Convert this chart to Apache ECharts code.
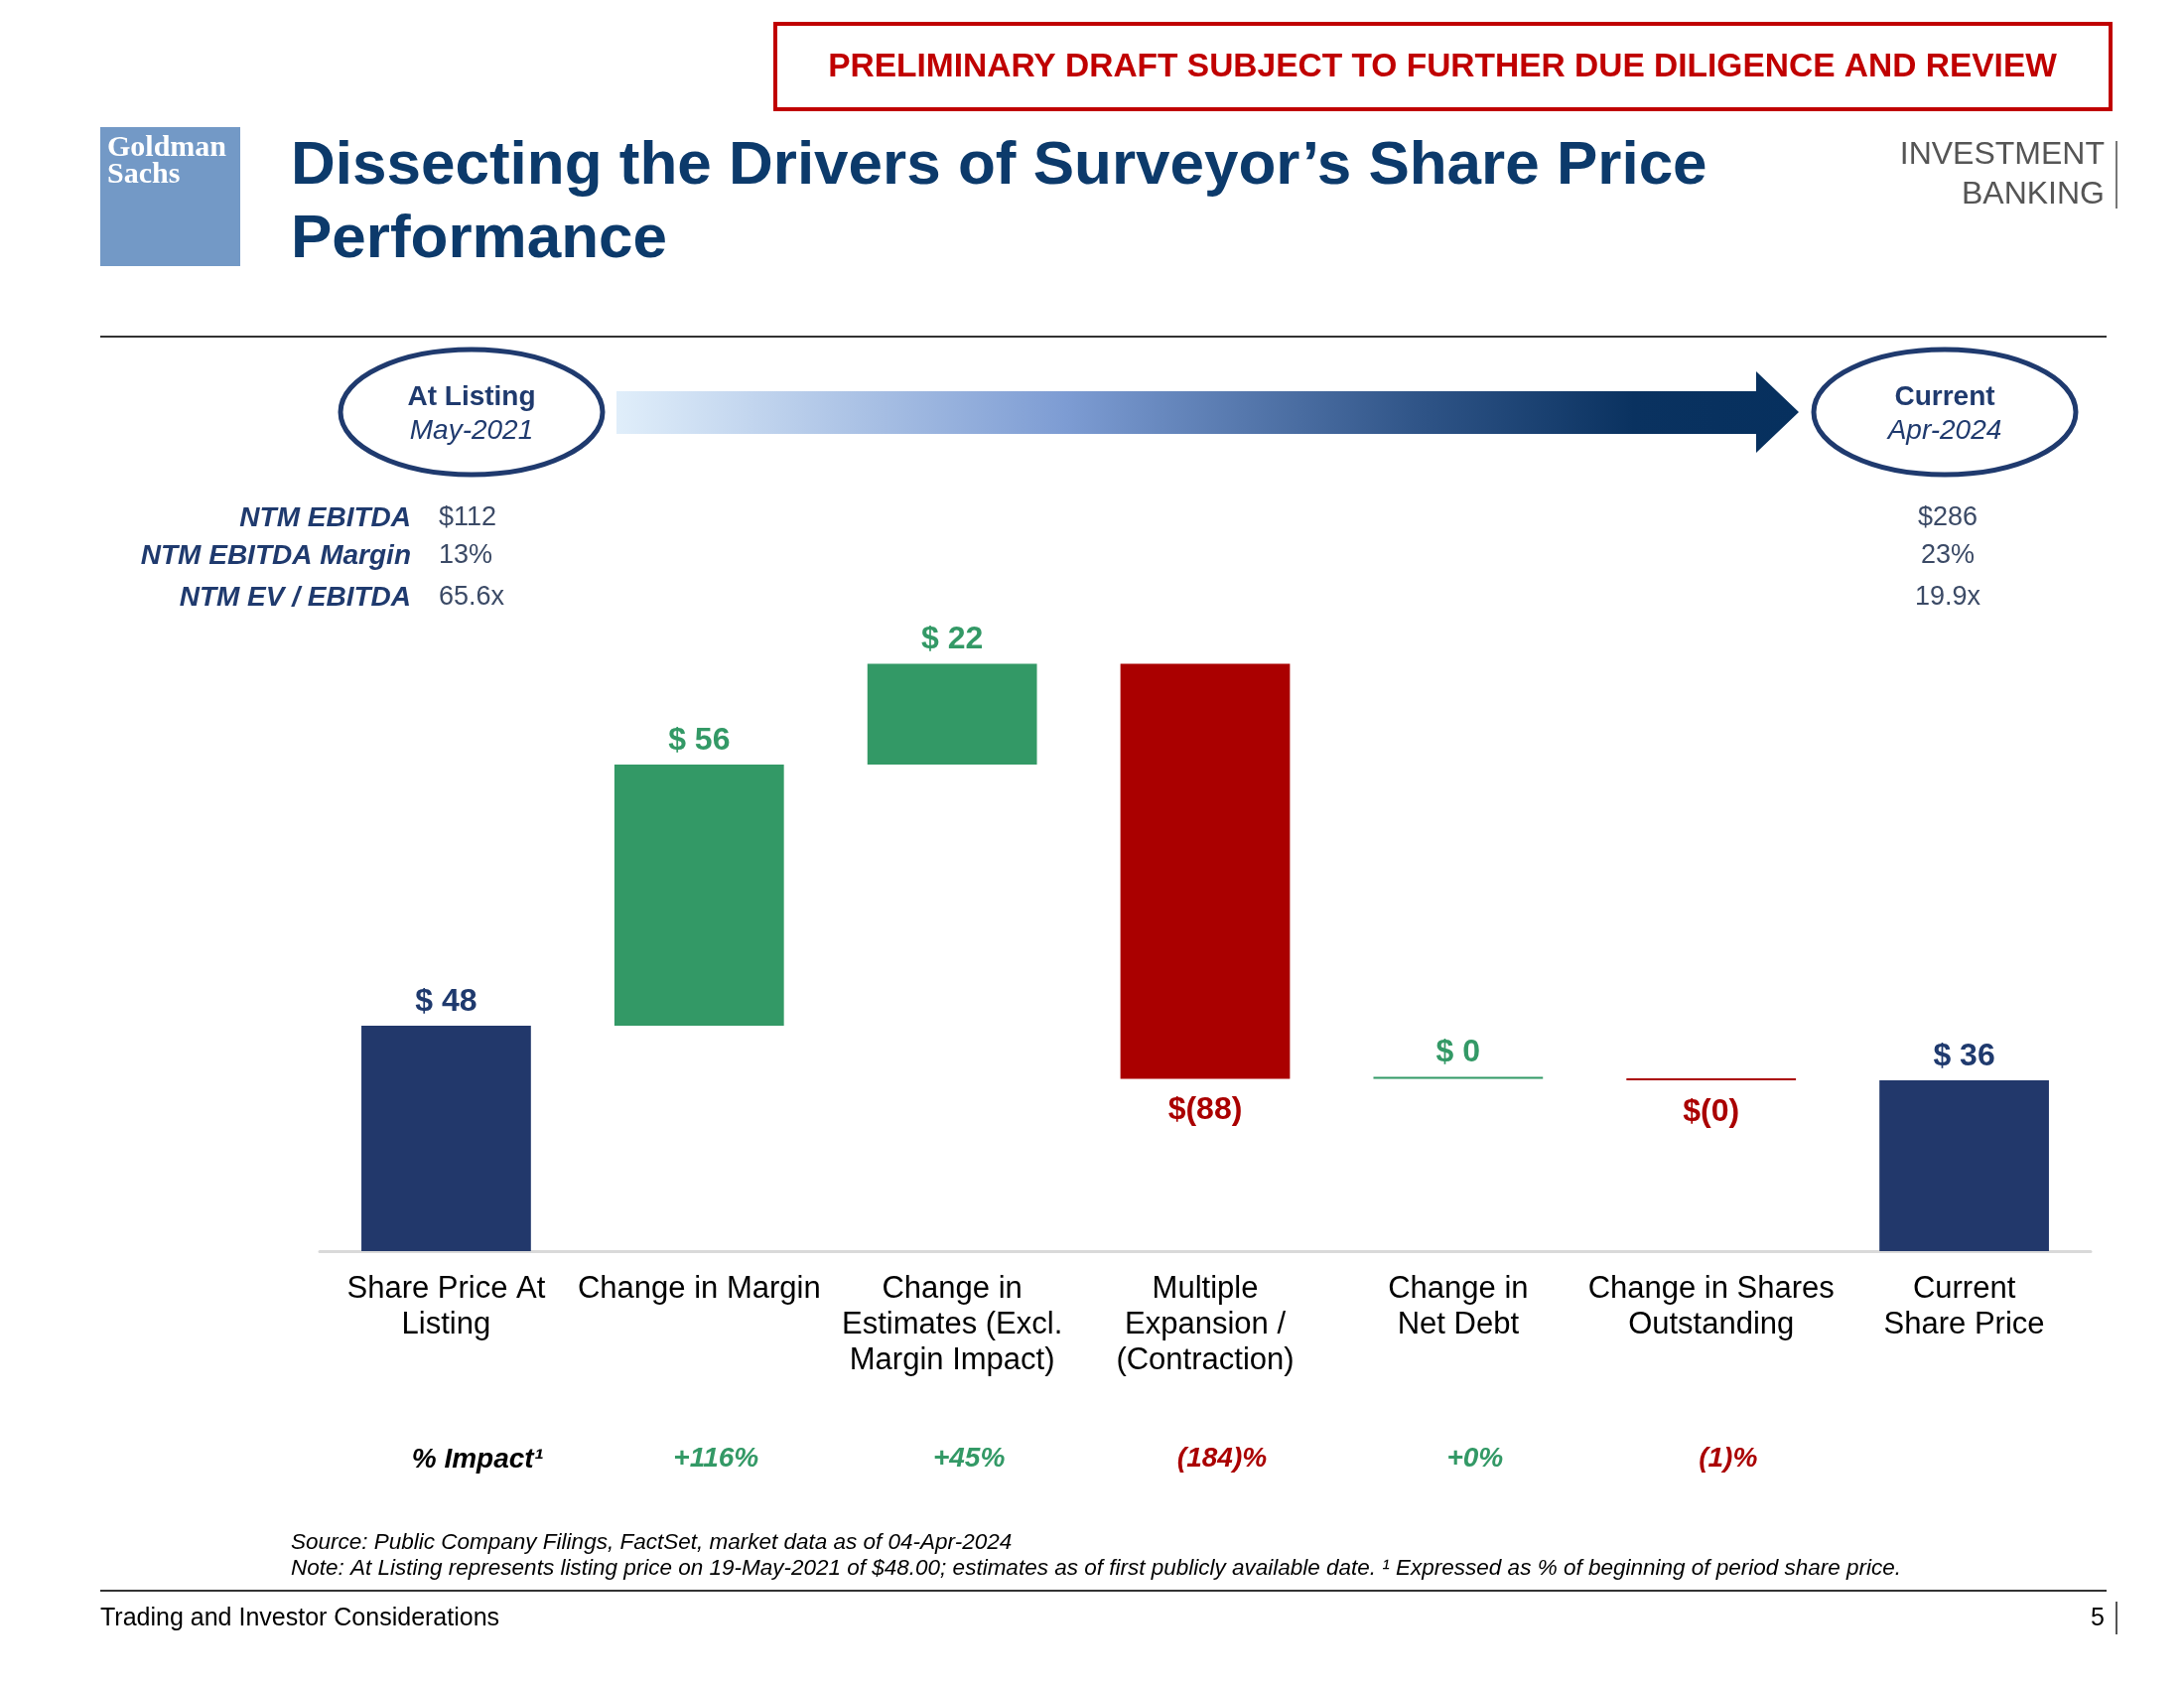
<!DOCTYPE html>
<html>
<head>
<meta charset="utf-8">
<script src="https://cdn.jsdelivr.net/npm/echarts@6/dist/echarts.min.js"></script>
<style>
html,body{margin:0;padding:0;background:#fff;}
#chart{width:2200px;height:1700px;}
</style>
</head>
<body>
<div id="chart"></div>
<script>
// ---- data ----
const categories = ['Share Price At\nListing', 'Change in Margin', 'Change in\nEstimates (Excl.\nMargin Impact)', 'Multiple\nExpansion /\n(Contraction)', 'Change in\nNet Debt', 'Change in Shares\nOutstanding', 'Current\nShare Price'];
const startPrice = 48.0;
const changes = [55.6, 21.5, -88.4, 0.1, -0.4];
const pctImpact = ['', '+116%', '+45%', '(184)%', '+0%', '(1)%', ''];
const metricNames = ['NTM EBITDA', 'NTM EBITDA Margin', 'NTM EV / EBITDA'];
const metricsListing = ['$112', '13%', '65.6x'];
const metricsCurrent = ['$286', '23%', '19.9x'];

// ---- build waterfall ----
const NAVY = '#22386B', GREEN = '#339966', RED = '#AA0000';
const LABEL_NAVY = '#1F3A6E';
function fmt(v){ const r = Math.round(Math.abs(v)); return v < 0 ? '$(' + r + ')' : '$ ' + r; }
const baseData = [], valData = [];
let run = startPrice;
baseData.push(0);
valData.push({value: startPrice, itemStyle:{color:NAVY}, label:{position:'top', color:LABEL_NAVY, formatter: fmt(startPrice)}});
changes.forEach(c => {
  const next = run + c;
  baseData.push(Math.min(run, next));
  const col = c >= 0 ? GREEN : RED;
  valData.push({value: Math.abs(c), itemStyle:{color:col}, label:{position: c >= 0 ? 'top' : 'bottom', distance: c >= 0 ? 8 : 16, color:col, formatter: fmt(c)}});
  run = next;
});
baseData.push(0);
valData.push({value: run, itemStyle:{color:NAVY}, label:{position:'top', color:LABEL_NAVY, formatter: fmt(run)}});

const FONT = '"Liberation Sans", Arial, sans-serif';
const chart = echarts.init(document.getElementById('chart'), null, {renderer:'canvas'});

const graphics = [];
// Draft box
graphics.push({type:'rect', shape:{x:781, y:24, width:1345, height:86}, style:{fill:'#fff', stroke:'#C00000', lineWidth:4}});
graphics.push({type:'text', style:{text:'PRELIMINARY DRAFT SUBJECT TO FURTHER DUE DILIGENCE AND REVIEW', x:1453, y:68, align:'center', verticalAlign:'middle', fill:'#C00000', fontSize:33.5, fontWeight:'bold', fontFamily:FONT}});
// Logo
graphics.push({type:'rect', shape:{x:101, y:128, width:141, height:140}, style:{fill:'#7399C6'}});
graphics.push({type:'text', style:{text:'Goldman', x:108, y:149, verticalAlign:'middle', fill:'#fff', fontSize:30, fontWeight:'bold', fontFamily:'"Liberation Serif", "DejaVu Serif", serif'}});
graphics.push({type:'text', style:{text:'Sachs', x:108, y:176, verticalAlign:'middle', fill:'#fff', fontSize:30, fontWeight:'bold', fontFamily:'"Liberation Serif", "DejaVu Serif", serif'}});
// Title
graphics.push({type:'text', style:{text:'Dissecting the Drivers of Surveyor’s Share Price', x:293, y:199, verticalAlign:'bottom', fill:'#0C3A6B', fontSize:62, fontWeight:'bold', fontFamily:FONT}});
graphics.push({type:'text', style:{text:'Performance', x:293, y:273, verticalAlign:'bottom', fill:'#0C3A6B', fontSize:62, fontWeight:'bold', fontFamily:FONT}});
// Investment banking
graphics.push({type:'text', style:{text:'INVESTMENT', x:2120, y:156, align:'right', verticalAlign:'middle', fill:'#555', fontSize:32, fontFamily:FONT}});
graphics.push({type:'text', style:{text:'BANKING', x:2120, y:196, align:'right', verticalAlign:'middle', fill:'#555', fontSize:32, fontFamily:FONT}});
graphics.push({type:'line', shape:{x1:2132, y1:142, x2:2132, y2:210}, style:{stroke:'#777', lineWidth:2}});
// Rules
graphics.push({type:'line', shape:{x1:101, y1:339, x2:2122, y2:339}, style:{stroke:'#333', lineWidth:2}});
graphics.push({type:'line', shape:{x1:101, y1:1602, x2:2122, y2:1602}, style:{stroke:'#333', lineWidth:2}});
// Arrow
graphics.push({type:'polygon', shape:{points:[[621,394],[1769,394],[1769,374],[1812,415],[1769,456],[1769,437],[621,437]]},
  style:{fill:new echarts.graphic.LinearGradient(0,0,1,0,[{offset:0,color:'#E0EEFA'},{offset:0.38,color:'#7D9CD3'},{offset:0.68,color:'#2F5487'},{offset:0.86,color:'#0A3260'},{offset:1,color:'#06305E'}])}});
// Ellipses
[[475,'At Listing','May-2021'],[1959,'Current','Apr-2024']].forEach(e => {
  graphics.push({type:'ellipse', shape:{cx:e[0], cy:415, rx:132, ry:63}, style:{fill:'#fff', stroke:'#1F3A6E', lineWidth:5}});
  graphics.push({type:'text', style:{text:e[1], x:e[0], y:400, align:'center', verticalAlign:'middle', fill:'#1F3A6E', fontSize:28, fontWeight:'bold', fontFamily:FONT}});
  graphics.push({type:'text', style:{text:e[2], x:e[0], y:434, align:'center', verticalAlign:'middle', fill:'#1F3A6E', fontSize:28, fontStyle:'italic', fontFamily:FONT}});
});
// Metrics
const metricY = [522, 560, 602];
metricNames.forEach((m,i) => {
  graphics.push({type:'text', style:{text:m, x:414, y:metricY[i], align:'right', verticalAlign:'middle', fill:'#1F3A6E', fontSize:28, fontWeight:'bold', fontStyle:'italic', fontFamily:FONT}});
  graphics.push({type:'text', style:{text:metricsListing[i], x:442, y:metricY[i], align:'left', verticalAlign:'middle', fill:'#3B4A66', fontSize:27, fontFamily:FONT}});
  graphics.push({type:'text', style:{text:metricsCurrent[i], x:1962, y:metricY[i], align:'center', verticalAlign:'middle', fill:'#3B4A66', fontSize:27, fontFamily:FONT}});
});
// % Impact label
graphics.push({type:'text', style:{text:'% Impact¹', x:547, y:1470, align:'right', verticalAlign:'middle', fill:'#000', fontSize:28, fontWeight:'bold', fontStyle:'italic', fontFamily:FONT}});
// Notes
graphics.push({type:'text', style:{text:'Source: Public Company Filings, FactSet, market data as of 04-Apr-2024', x:293, y:1554, verticalAlign:'middle', fill:'#000', fontSize:22.5, fontStyle:'italic', fontFamily:FONT}});
graphics.push({type:'text', style:{text:'Note: At Listing represents listing price on 19-May-2021 of $48.00; estimates as of first publicly available date. ¹ Expressed as % of beginning of period share price.', x:293, y:1580, verticalAlign:'middle', fill:'#000', fontSize:22.5, fontStyle:'italic', fontFamily:FONT}});
// Footer
graphics.push({type:'text', style:{text:'Trading and Investor Considerations', x:101, y:1630, verticalAlign:'middle', fill:'#000', fontSize:25, fontFamily:FONT}});
graphics.push({type:'text', style:{text:'5', x:2120, y:1630, align:'right', verticalAlign:'middle', fill:'#000', fontSize:25, fontFamily:FONT}});
graphics.push({type:'line', shape:{x1:2132, y1:1613, x2:2132, y2:1646}, style:{stroke:'#555', lineWidth:2}});

const option = {
  backgroundColor:'#fff',
  animation:false,
  grid:{left:322, right:94, top:598, bottom:440, containLabel:false},
  xAxis:[{
    type:'category', data:categories, position:'bottom',
    axisLine:{show:true, lineStyle:{color:'#D9D9D9', width:3}},
    axisTick:{show:false},
    axisLabel:{interval:0, fontSize:31, color:'#000', lineHeight:36, margin:20, fontFamily:FONT}
  },{
    type:'category', data:categories, position:'bottom', offset:195,
    axisLine:{show:false}, axisTick:{show:false},
    axisLabel:{interval:0, margin:0, fontFamily:FONT,
      formatter:(v,i) => { const p = pctImpact[i]; if(!p) return ''; return (p.charAt(0)==='(' ? '{r|' : '{g|') + p + '}'; },
      rich:{
        g:{color:GREEN, fontSize:28, fontWeight:'bold', fontStyle:'italic', fontFamily:FONT, padding:[0,0,0,34]},
        r:{color:RED, fontSize:28, fontWeight:'bold', fontStyle:'italic', fontFamily:FONT, padding:[0,0,0,34]}
      }}
  }],
  yAxis:{type:'value', min:0, max:140, show:false, splitLine:{show:false}},
  series:[
    {type:'bar', name:'base', stack:'wf', data:baseData, itemStyle:{color:'rgba(0,0,0,0)'}, barCategoryGap:'33%', silent:true},
    {type:'bar', name:'value', stack:'wf', data:valData, barCategoryGap:'33%', barMinHeight:2,
      label:{show:true, fontSize:32, fontWeight:'bold', fontFamily:FONT, distance:8}}
  ],
  graphic:graphics
};
chart.setOption(option);
</script>
</body>
</html>
